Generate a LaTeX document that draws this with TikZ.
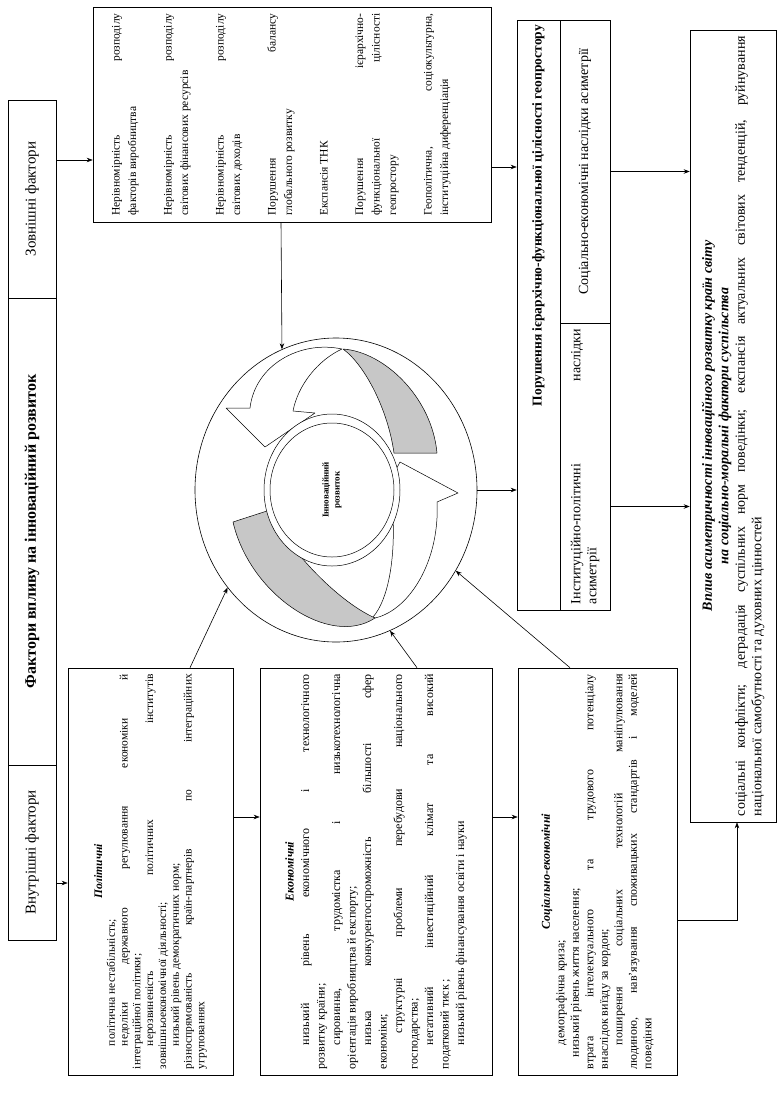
\documentclass[tikz,border=0pt]{standalone}
\usepackage{fontspec}
\usepackage{graphicx}
\setmainfont{Liberation Serif}
\usetikzlibrary{arrows.meta,shapes.geometric}
\definecolor{bandgray}{gray}{0.78}
\newcommand{\vertpar}[2]{\rotatebox{90}{\parbox{#1}{\sloppy\hyphenpenalty=10000\relax #2}}}

\begin{document}
\begin{tikzpicture}[x=1pt,y=-1pt,
  box/.style={draw, line width=0.6pt, inner sep=0pt, fill=white},
  cell/.style={box, line width=1pt},
  arr/.style={-{Stealth[length=6pt,width=4.5pt]}, line width=0.6pt},
  band/.style={draw, line width=0.5pt, line join=round}]
\useasboundingbox (0,0) rectangle (778,1117);
% left column
\draw (32,199) node (zf) [box, minimum width=48pt, minimum height=198pt]
  {\rotatebox{90}{\fontsize{15}{17}\selectfont Зовнішні фактори}};
\draw (32,531.5) node (fv) [box, minimum width=48pt, minimum height=467pt]
  {\rotatebox{90}{\fontsize{16}{18}\selectfont\bfseries Фактори впливу на інноваційний розвиток}};
\draw (32,852.5) node (vf) [box, minimum width=48pt, minimum height=175pt]
  {\rotatebox{90}{\fontsize{15}{17}\selectfont Внутрішні фактори}};
% external factors
\draw (292,114.5) node (ext) [box, minimum width=398pt, minimum height=215pt]
  {\rotatebox{90}{\parbox[c][360pt][t]{202pt}{\fontsize{11.5}{16.5}\selectfont
   \setlength{\parskip}{19pt}\sloppy\hyphenpenalty=10000
   Нерівномірність розподілу\linebreak факторів виробництва\par
   Нерівномірність розподілу\linebreak світових фінансових ресурсів\par
   Нерівномірність розподілу\linebreak світових доходів\par
   Порушення балансу\linebreak глобального розвитку\par
   Експансія ТНК\par
   Порушення ієрархічно-\linebreak функціональної цілісності\linebreak геопростору\par
   Геополітична, соціокультурна,\linebreak інституційна диференціація}}};
% innovation cycle
\draw (336,490) node (krug) [ellipse, draw, fill=white, line width=0.6pt,
  minimum width=282pt, minimum height=304pt, inner sep=0pt] {};
\draw[band, fill=white] (342,349) .. controls (300,340) and (255,365) .. (250,408)
  -- (226,408) -- (265,447) -- (315,413) -- (293,411)
  .. controls (298,385) and (318,360) .. (342,349) -- cycle;
\draw[band, fill=bandgray] (343,349) .. controls (385,352) and (432,398) .. (437,453)
  -- (394,453) .. controls (388,410) and (365,365) .. (343,349) -- cycle;
\draw[band, fill=white] (375,618) .. controls (410,610) and (440,560) .. (437,502)
  -- (458,493) -- (400,462) -- (385,490) -- (393,518)
  .. controls (395,560) and (388,600) .. (373,617) -- cycle;
\draw[band, fill=bandgray] (233,522) -- (270,510) .. controls (285,545) and (335,600) .. (375,618)
  .. controls (330,648) and (250,595) .. (233,522) -- cycle;
\draw[line width=0.5pt, fill=white] (332,490) ellipse [x radius=68pt, y radius=76pt];
\draw[line width=0.5pt] (332,490) ellipse [x radius=62pt, y radius=67pt];
\draw (332,490) node (inn) [rotate=90, align=center, font=\fontsize{9}{11}\selectfont\bfseries]
  {Інноваційний\\розвиток};
% geospace
\draw (538.5,315) node (hdr) [box, minimum width=43pt, minimum height=590pt]
  {\vertpar{580pt}{\raggedleft\fontsize{13.5}{15}\selectfont\bfseries
   Порушення ієрархічно-функціональної цілісності геопростору}};
\draw (585,171.5) node (c1) [cell, minimum width=50pt, minimum height=303pt]
  {\vertpar{290pt}{\centering\fontsize{14}{16}\selectfont
   Соціально-економічні наслідки асиметрії}};
\draw (585,466.5) node (c2) [cell, minimum width=50pt, minimum height=287pt]
  {\vertpar{275pt}{\fontsize{14}{16}\selectfont
   Інституційно-політичні наслідки\linebreak асиметрії}};
\draw (733,426) node (far) [box, minimum width=86pt, minimum height=792pt]
  {\vertpar{780pt}{\fontsize{14}{16.5}\selectfont
   {\centering\bfseries\itshape Вплив асиметричності інноваційного розвитку країн світу\\
   на соціально-моральні фактори суспільства\par}
   соціальні конфлікти; деградація суспільних норм поведінки; експансія актуальних
   світових тенденцій, руйнування\linebreak національної самобутності та духовних цінностей}};
% internal factors
\draw (150.5,871.5) node (pol) [box, minimum width=165pt, minimum height=407pt]
  {\vertpar{395pt}{\fontsize{11.5}{12.8}\selectfont
   {\centering\bfseries\itshape Політичні\par}
   \hspace*{2em}політична нестабільність;\par
   \hspace*{2em}недоліки державного регулювання економіки й\linebreak інтеграційної політики;\par
   \hspace*{2em}нерозвиненість політичних інститутів\linebreak зовнішньоекономічної діяльності;\par
   \hspace*{2em}низький рівень демократичних норм;\par
   різноспрямованість країн-партнерів по інтеграційних\linebreak угрупованнях}};
\draw (376,871.5) node (eko) [box, minimum width=232pt, minimum height=407pt]
  {\vertpar{395pt}{\fontsize{12}{15.5}\selectfont
   {\centering\bfseries\itshape Економічні\par}
   \hspace*{2em}низький рівень економічного і технологічного\linebreak розвитку країни;\par
   \hspace*{2em}сировинна, трудомістка і низькотехнологічна\linebreak орієнтація виробництва й експорту;\par
   \hspace*{2em}низька конкурентоспроможність більшості сфер\linebreak економіки;\par
   \hspace*{3em}структурні проблеми перебудови національного\linebreak господарства;\par
   \hspace*{2em}негативний інвестиційний клімат та високий\linebreak податковий тиск ;\par
   \hspace*{2em}низький рівень фінансування освіти і науки}};
\draw (597.5,871.5) node (socek) [box, minimum width=159pt, minimum height=407pt]
  {\vertpar{395pt}{\fontsize{12}{14.5}\selectfont
   {\centering\bfseries\itshape Соціально-економічні\par}
   \hspace*{2em}демографічна криза;\par
   \hspace*{1em}низький рівень життя населення;\par
   втрата інтелектуального та трудового потенціалу\linebreak внаслідок виїзду за кордон;\par
   \hspace*{2em}поширення соціальних технологій маніпулювання\linebreak
   людиною, нав’язування споживацьких стандартів і моделей\linebreak поведінки}};
% connectors
\draw[arr] ([yshift=39pt]zf.east)--([yshift=-45.5pt]ext.west);
\draw[arr] ([yshift=-52.5pt]ext.east)--([yshift=148pt]hdr.west);
\draw[arr] ([xshift=-11pt]ext.south)--(krug.111);
\draw[arr] (krug.east)--([yshift=-175pt]hdr.west);
\draw[arr] (c1.east)--([yshift=254.5pt]far.west);
\draw[arr] ([yshift=-40pt]c2.east)--([yshift=-80.5pt]far.west);
\draw[arr] ([yshift=-30.5pt]vf.east)--([yshift=-11.5pt]pol.west);
\draw[arr] ([xshift=39.5pt]pol.north)--(krug.222);
\draw[arr] ([yshift=54.5pt]pol.east)--([yshift=54.5pt]eko.west);
\draw[arr] ([xshift=41pt]eko.north)--(krug.291);
\draw[arr] ([yshift=54.5pt]eko.east)--([yshift=54.5pt]socek.west);
\draw[arr] ([xshift=-27.5pt]socek.north)--(krug.326);
\draw[arr] ([yshift=-48.5pt]socek.east)-|([xshift=4pt]far.south);
\end{tikzpicture}
\end{document}
